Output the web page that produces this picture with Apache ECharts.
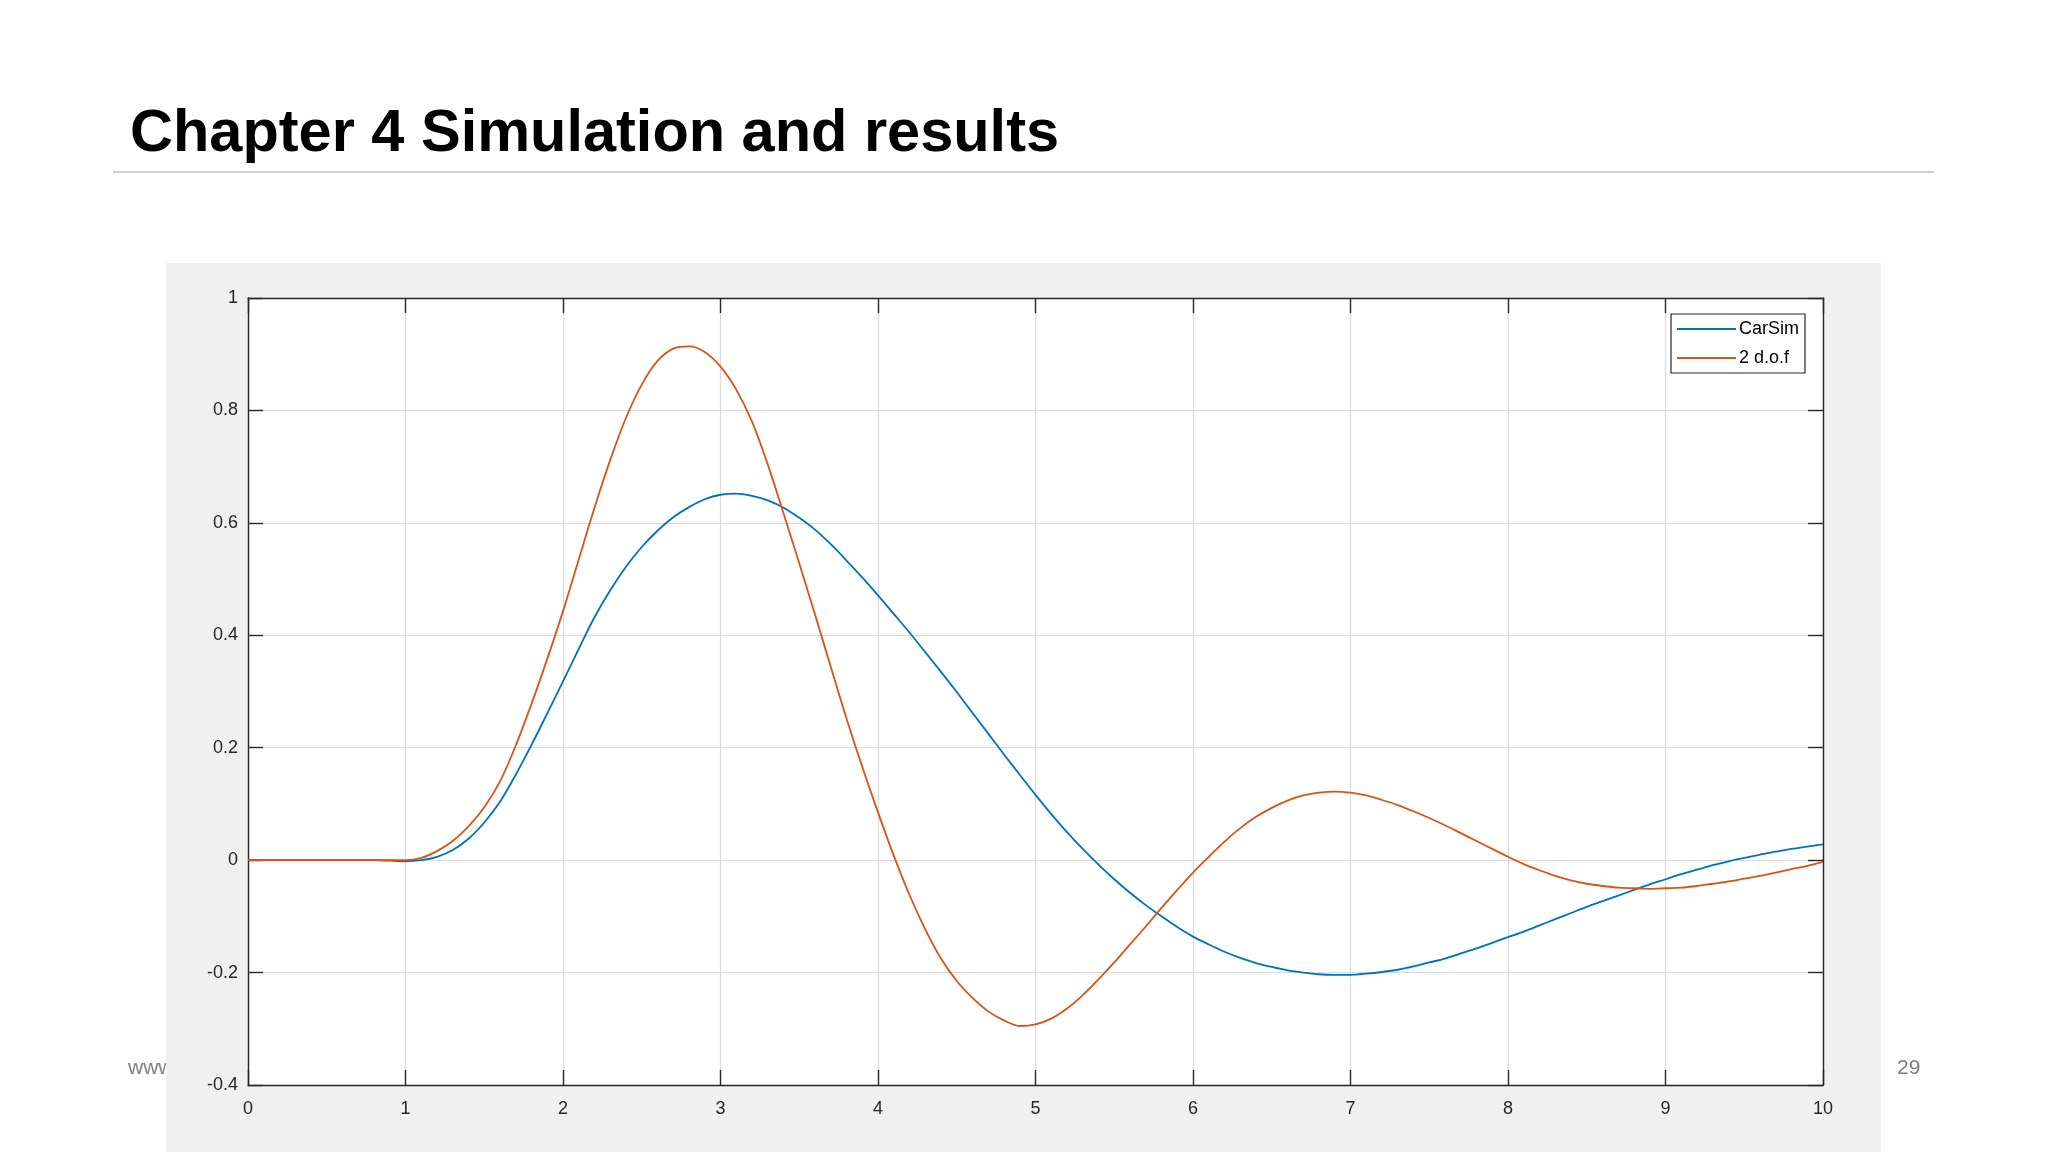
<!DOCTYPE html>
<html>
  <head>
    <meta charset="utf-8">
    <title>Chapter 4 Simulation and results</title>
    <script src="https://cdn.jsdelivr.net/npm/echarts@6/dist/echarts.min.js"></script>
    <style>
      html, body { margin: 0; padding: 0; background: #fff; }
      #main { width: 2048px; height: 1152px; }
    </style>
  </head>
  <body>
    <div id="main"></div>
    <script>
      // time axis (s) and the two responses
      const time = [0, 0.1, 0.2, 0.3, 0.4, 0.5, 0.6, 0.7, 0.8, 0.9,
                    1.0, 1.1, 1.2, 1.3, 1.4, 1.5, 1.6, 1.7, 1.8, 1.9,
                    2.0, 2.1, 2.2, 2.3, 2.4, 2.5, 2.6, 2.7, 2.8, 2.9,
                    3.0, 3.1, 3.2, 3.3, 3.4, 3.5, 3.6, 3.7, 3.8, 3.9,
                    4.0, 4.1, 4.2, 4.3, 4.4, 4.5, 4.6, 4.7, 4.8, 4.9,
                    5.0, 5.1, 5.2, 5.3, 5.4, 5.5, 5.6, 5.7, 5.8, 5.9,
                    6.0, 6.1, 6.2, 6.3, 6.4, 6.5, 6.6, 6.7, 6.8, 6.9,
                    7.0, 7.1, 7.2, 7.3, 7.4, 7.5, 7.6, 7.7, 7.8, 7.9,
                    8.0, 8.1, 8.2, 8.3, 8.4, 8.5, 8.6, 8.7, 8.8, 8.9,
                    9.0, 9.1, 9.2, 9.3, 9.4, 9.5, 9.6, 9.7, 9.8, 9.9, 10.0];
      const carsim = [0, 0, 0, 0, 0, 0, 0, 0, 0, -0.001,
                      -0.002, 0.0, 0.006, 0.018, 0.038, 0.067, 0.104, 0.152, 0.205, 0.261,
                      0.318, 0.376, 0.432, 0.48, 0.522, 0.557, 0.586, 0.61, 0.628, 0.642,
                      0.65, 0.652, 0.648, 0.64, 0.627, 0.609, 0.588, 0.562, 0.533, 0.503,
                      0.471, 0.438, 0.405, 0.37, 0.335, 0.299, 0.262, 0.225, 0.188, 0.152,
                      0.116, 0.082, 0.05, 0.02, -0.008, -0.034, -0.058, -0.08, -0.1, -0.119,
                      -0.136, -0.15, -0.163, -0.174, -0.183, -0.19, -0.196, -0.2, -0.203, -0.204,
                      -0.204, -0.202, -0.199, -0.195, -0.189, -0.182, -0.175, -0.166, -0.157, -0.147,
                      -0.137, -0.127, -0.116, -0.105, -0.094, -0.083, -0.073, -0.063, -0.053, -0.043,
                      -0.034, -0.025, -0.017, -0.009, -0.002, 0.004, 0.01, 0.015, 0.02, 0.024, 0.028];
      const dof2 = [0, 0, 0, 0, 0, 0, 0, 0, 0, 0,
                    0, 0.004, 0.016, 0.034, 0.06, 0.094, 0.14, 0.204, 0.278, 0.358,
                    0.443, 0.535, 0.627, 0.712, 0.787, 0.846, 0.888, 0.91, 0.914, 0.904,
                    0.878, 0.837, 0.78, 0.704, 0.617, 0.528, 0.437, 0.344, 0.252, 0.166,
                    0.085, 0.008, -0.062, -0.123, -0.175, -0.215, -0.245, -0.269, -0.285, -0.295,
                    -0.292, -0.282, -0.264, -0.24, -0.212, -0.182, -0.15, -0.118, -0.085, -0.053,
                    -0.022, 0.006, 0.033, 0.057, 0.077, 0.093, 0.106, 0.115, 0.12, 0.122,
                    0.12, 0.115, 0.107, 0.098, 0.087, 0.075, 0.062, 0.048, 0.034, 0.02,
                    0.006, -0.007, -0.018, -0.028, -0.036, -0.042, -0.046, -0.049, -0.05, -0.051,
                    -0.05, -0.049, -0.046, -0.042, -0.038, -0.033, -0.028, -0.022, -0.016, -0.01, -0.003];
      const seriesNames = ['CarSim', '2 d.o.f'];

      const axisColor = '#262626';
      const gridColor = '#dadada';
      const font = 'Liberation Sans, Arial, Helvetica, sans-serif';

      const chart = echarts.init(document.getElementById('main'));

      const xBase = {
        type: 'value', min: 0, max: 10, interval: 1,
        axisLine: { show: true, onZero: false, lineStyle: { color: axisColor, width: 1.4 } },
        axisTick: { show: true, inside: true, length: 15, lineStyle: { color: axisColor, width: 1.4 } }
      };
      const yBase = {
        type: 'value', min: -0.4, max: 1, interval: 0.2,
        axisLine: { show: true, onZero: false, lineStyle: { color: axisColor, width: 1.4 } },
        axisTick: { show: true, inside: true, length: 15, lineStyle: { color: axisColor, width: 1.4 } }
      };

      chart.setOption({
        animation: false,
        backgroundColor: '#fff',
        textStyle: { fontFamily: font },
        graphic: [
          { type: 'text', left: 130, top: 105,
            style: { text: 'Chapter 4 Simulation and results', font: 'bold 59.5px ' + font, fill: '#000' } },
          { type: 'line', shape: { x1: 113, y1: 172, x2: 1934, y2: 172 },
            style: { stroke: '#cfcfcf', lineWidth: 2 } },
          // footer text sits under the grey panel, so it is cut at the panel edge
          { type: 'text', z: -2, left: 128, top: 1058,
            style: { text: 'www', font: '21px ' + font, fill: '#7f7f7f' } },
          { type: 'rect', z: -1, shape: { x: 166, y: 263, width: 1715, height: 889 },
            style: { fill: '#f0f0f0' } },
          { type: 'text', left: 1897, top: 1058,
            style: { text: '29', font: '21px ' + font, fill: '#7f7f7f' } }
        ],
        grid: {
          left: 248, top: 298, width: 1575, height: 787,
          show: true, backgroundColor: '#fff', borderWidth: 0
        },
        legend: {
          data: seriesNames,
          orient: 'vertical',
          left: 1671, top: 314,
          padding: [6, 6, 6, 6],
          itemWidth: 59, itemHeight: 14, itemGap: 11,
          icon: 'path://M0,0L100,0L100,3L0,3Z',
          symbolKeepAspect: true,
          backgroundColor: '#fff',
          borderColor: axisColor, borderWidth: 1.2, borderRadius: 0,
          textStyle: { color: '#000', fontSize: 18, lineHeight: 14, fontFamily: font, padding: [0, 0, 0, -2] }
        },
        xAxis: [
          Object.assign({}, xBase, {
            position: 'bottom',
            axisLabel: { color: axisColor, fontSize: 18, margin: 15 },
            splitLine: { show: true, lineStyle: { color: gridColor, width: 1.2 } }
          }),
          Object.assign({}, xBase, {
            position: 'top',
            axisLabel: { show: false },
            splitLine: { show: false }
          })
        ],
        yAxis: [
          Object.assign({}, yBase, {
            position: 'left',
            axisLabel: { color: axisColor, fontSize: 18, margin: 10 },
            splitLine: { show: true, lineStyle: { color: gridColor, width: 1.2 } }
          }),
          Object.assign({}, yBase, {
            position: 'right',
            axisLabel: { show: false },
            splitLine: { show: false }
          })
        ],
        series: [
          {
            name: seriesNames[0], type: 'line', smooth: 0.3,
            symbol: 'none', xAxisIndex: 0, yAxisIndex: 0,
            lineStyle: { color: '#0072BD', width: 1.8 },
            itemStyle: { color: '#0072BD' },
            data: time.map((t, i) => [t, carsim[i]])
          },
          {
            name: seriesNames[1], type: 'line', smooth: 0.3,
            symbol: 'none', xAxisIndex: 0, yAxisIndex: 0,
            lineStyle: { color: '#D95319', width: 1.8 },
            itemStyle: { color: '#D95319' },
            data: time.map((t, i) => [t, dof2[i]])
          }
        ]
      });
    </script>
  </body>
</html>
